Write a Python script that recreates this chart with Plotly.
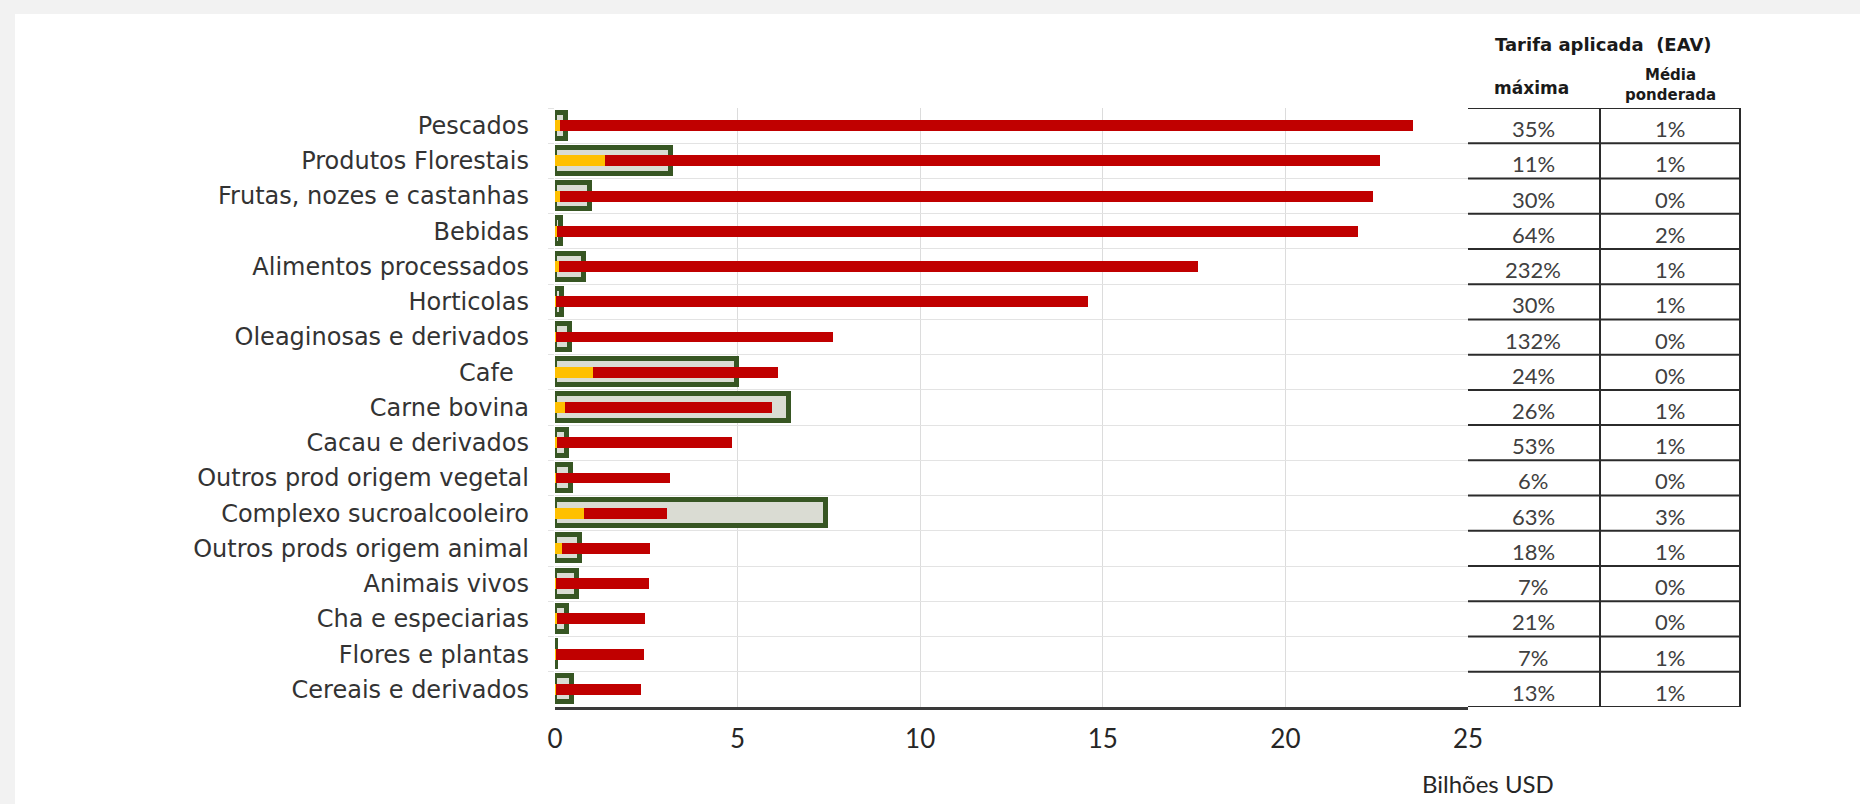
import plotly.graph_objects as go

# ---------------- data ----------------
categories = ["Pescados", "Produtos Florestais", "Frutas, nozes e castanhas", "Bebidas",
              "Alimentos processados", "Horticolas", "Oleaginosas e derivados", "Cafe\u00a0\u00a0",
              "Carne bovina", "Cacau e derivados", "Outros prod origem vegetal",
              "Complexo sucroalcooleiro", "Outros prods origem animal", "Animais vivos",
              "Cha e especiarias", "Flores e plantas", "Cereais e derivados"]
total_red = [23.5, 22.6, 22.4, 22.0, 17.6, 14.6, 7.6, 6.1, 5.95, 4.85, 3.15, 3.07, 2.6, 2.57, 2.47, 2.43, 2.35]
yellow = [0.15, 1.37, 0.15, 0.05, 0.12, 0.03, 0.03, 1.05, 0.27, 0.05, 0.04, 0.8, 0.18, 0.03, 0.05, 0.02, 0.03]
box = [0.29, 3.17, 0.97, 0.16, 0.79, 0.19, 0.4, 4.99, 6.41, 0.33, 0.45, 7.43, 0.69, 0.61, 0.33, 0.04, 0.47]
tarifa_max = ["35%", "11%", "30%", "64%", "232%", "30%", "132%", "24%", "26%", "53%", "6%",
              "63%", "18%", "7%", "21%", "7%", "13%"]
tarifa_media = ["1%", "1%", "0%", "2%", "1%", "1%", "0%", "0%", "1%", "1%", "0%", "3%", "1%",
                "0%", "0%", "1%", "1%"]
x_ticks = [0, 5, 10, 15, 20, 25]

# ---------------- geometry (pixels) ----------------
W, H = 1860, 804
L, R, T, B = 555, 1468, 108, 707


def px_x(px):
    return (px - L) / (R - L)


def px_y(py):
    return (B - py) / (B - T)


red_len = [t - y for t, y in zip(total_red, yellow)]

fig = go.Figure()
fig.add_trace(go.Bar(y=categories, x=box, orientation="h", width=0.74,
                     marker=dict(color="#dadcd3", line=dict(color="#375623", width=5)),
                     hoverinfo="skip", showlegend=False))
fig.add_trace(go.Bar(y=categories, x=yellow, orientation="h", width=0.31,
                     marker=dict(color="#ffc000", line=dict(width=0)), showlegend=False))
fig.add_trace(go.Bar(y=categories, x=red_len, base=yellow, orientation="h", width=0.31,
                     marker=dict(color="#c00000", line=dict(width=0)), showlegend=False))

shapes = []
# white panel over grey page
shapes.append(dict(type="rect", xref="paper", yref="paper", layer="below",
                   x0=px_x(15), x1=px_x(W + 5), y0=px_y(H + 5), y1=px_y(14),
                   fillcolor="white", line=dict(width=0)))

# table lines
n = len(categories)
tx0, tmid, tx1 = px_x(1468), px_x(1600), px_x(1740)
for i in range(n + 1):
    shapes.append(dict(type="line", xref="paper", yref="y", x0=tx0, x1=tx1,
                       y0=i - 0.5, y1=i - 0.5, line=dict(color="#2b2b2b", width=2)))
for xv in (tmid, tx1):
    shapes.append(dict(type="line", xref="paper", yref="y", x0=xv, x1=xv,
                       y0=-0.5, y1=n - 0.5, line=dict(color="#2b2b2b", width=2)))

cell_font = dict(family="Lato", size=22, color="#404040")
annotations = []
for cat, m, md in zip(categories, tarifa_max, tarifa_media):
    annotations.append(dict(xref="paper", yref="y", x=px_x(1533), y=cat, text=m,
                            showarrow=False, yshift=-3, xanchor="center", yanchor="middle",
                            font=cell_font))
    annotations.append(dict(xref="paper", yref="y", x=px_x(1670), y=cat, text=md,
                            showarrow=False, yshift=-3, xanchor="center", yanchor="middle",
                            font=cell_font))

hdr = dict(showarrow=False, xanchor="center", yanchor="middle", xref="paper", yref="paper")
annotations.append(dict(x=px_x(1603), y=px_y(45), text="<b>Tarifa aplicada  (EAV)</b>",
                        font=dict(family="DejaVu Sans", size=18, color="#1a1a1a"), **hdr))
annotations.append(dict(x=px_x(1531), y=px_y(88), text="<b>máxima</b>",
                        font=dict(family="DejaVu Sans", size=17, color="#1a1a1a"), **hdr))
annotations.append(dict(x=px_x(1670), y=px_y(85), text="<b>Média<br>ponderada</b>",
                        font=dict(family="DejaVu Sans", size=15, color="#1a1a1a"), **hdr))
annotations.append(dict(x=px_x(1488), y=px_y(783), text="Bilhões USD",
                        font=dict(family="Lato", size=24, color="#262626"), **hdr))

fig.update_layout(
    width=W, height=H,
    margin=dict(l=L, r=W - R, t=T, b=H - B, pad=0),
    paper_bgcolor="#f2f2f2", plot_bgcolor="white",
    barmode="overlay", bargap=0,
    shapes=shapes, annotations=annotations,
    xaxis=dict(range=[0, 25], tickvals=x_ticks, showgrid=True, gridcolor="#dcdcdc",
               gridwidth=1, zeroline=False, showline=True, linecolor="#3a3a3a", linewidth=3,
               ticks="", ticklabelstandoff=7,
               tickfont=dict(family="Lato", size=26, color="#262626")),
    yaxis=dict(type="category", categoryorder="array", categoryarray=categories,
               range=[n - 0.5, -0.5], tickson="boundaries", showgrid=True,
               gridcolor="#e3e3e3", gridwidth=1, zeroline=False, showline=False,
               ticks="outside", ticklen=6, tickcolor="#e3e3e3", ticklabelstandoff=25,
               tickfont=dict(family="DejaVu Sans", size=24, color="#333333")),
)

fig.write_html("out.html")
